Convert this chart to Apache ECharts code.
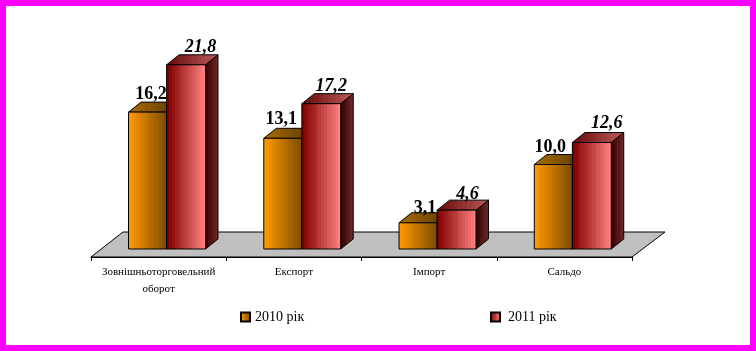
<!DOCTYPE html>
<html><head><meta charset="utf-8">
<style>html,body{margin:0;padding:0;background:#fff}#c{width:756px;height:351px}</style>
<script src="https://cdn.jsdelivr.net/npm/echarts@6/dist/echarts.min.js"></script>
</head><body><div id="c"></div>
<script>
const categories = ['Зовнішньоторговельний\nоборот', 'Експорт', 'Імпорт', 'Сальдо'];
const seriesNames = ['2010 рік', '2011 рік'];
const values2010 = [16.2, 13.1, 3.1, 10.0];
const values2011 = [21.8, 17.2, 4.6, 12.6];

function hex(c){return [1,3,5].map(i=>parseInt(c.substr(i,2),16));}
function bands(a,b,n){
  const A=hex(a),B=hex(b),stops=[];
  for(let i=0;i<n;i++){
    const t=i/(n-1);
    const col='rgb('+A.map((v,k)=>Math.round(v+(B[k]-v)*t)).join(',')+')';
    stops.push({offset:i/n,color:col},{offset:(i+1)/n,color:col});
  }
  return new echarts.graphic.LinearGradient(0,0,1,0,stops);
}
const styles = [
  {front:bands('#ff9900','#7f4d00',14),top:bands('#a86a00','#5c3a00',12),side:bands('#a86a00','#5c3a00',6),
   font:'bold 18px "Liberation Serif"',startK:-0.2225,endK:0.0591,
   nudgeX:[3.5,-1.5,7,-3],nudgeY:[0.5,0,4,1]},
  {front:bands('#800000','#ff8080',14),top:bands('#6a0c0c','#b85858',12),side:bands('#380000','#6a2828',6),
   font:'italic bold 18px "Liberation Serif"',startK:0.0591,endK:0.3465,
   nudgeX:[14.5,10,11,15],nudgeY:[1.5,1,3,-1]}
];
const depthX=12.5, depthY=10;

function renderBar(st){
  return function(params,api){
    const cat=api.value(0), val=api.value(1);
    const top=api.coord([cat,val]), base=api.coord([cat,0]);
    const band=api.size([1,0])[0];
    const x0=top[0]+st.startK*band, x1=top[0]+st.endK*band, yT=top[1], yB=base[1];
    const line={stroke:'#000',lineWidth:1};
    return {type:'group',children:[
      {type:'polygon',shape:{points:[[x1,yT],[x1+depthX,yT-depthY],[x1+depthX,yB-depthY],[x1,yB]]},
        style:Object.assign({fill:st.side},line)},
      {type:'polygon',shape:{points:[[x0,yT],[x0+depthX,yT-depthY],[x1+depthX,yT-depthY],[x1,yT]]},
        style:Object.assign({fill:st.top},line)},
      {type:'rect',shape:{x:x0,y:yT,width:x1-x0,height:yB-yT},
        style:Object.assign({fill:st.front},line)},
      {type:'text',z2:50,style:{text:val.toFixed(1).replace('.',','),x:(x0+x1)/2+st.nudgeX[cat],y:yT-18.5+st.nudgeY[cat],
        font:st.font,fill:'#000',align:'center',verticalAlign:'middle'}}
    ]};
  };
}
function mk(name,vals,st,z){
  return {type:'custom',name:name,z:z,clip:false,
    itemStyle:{color:st.front,borderColor:'#000',borderWidth:1},
    encode:{x:0,y:1},
    data:vals.map((v,i)=>[i,v]),
    renderItem:renderBar(st)};
}
const legendBase={top:310,itemWidth:9,itemHeight:9,padding:0,icon:'rect'};
const chart=echarts.init(document.getElementById('c'),null,{renderer:'canvas'});
chart.setOption({
  animation:false,
  backgroundColor:'#fff',
  grid:{left:91,right:124,top:37.75,bottom:102},
  xAxis:{type:'category',data:categories,offset:8,
    axisLine:{onZero:false,lineStyle:{color:'#000',width:1}},
    axisTick:{show:true,length:4,lineStyle:{color:'#000'}},
    axisLabel:{interval:0,fontFamily:'Liberation Serif',fontSize:11,color:'#000',lineHeight:17,margin:7}},
  yAxis:{type:'value',min:0,max:25,show:false},
  legend:[
    Object.assign({},legendBase,{left:240,data:[seriesNames[0]],
      textStyle:{fontFamily:'Liberation Serif',fontSize:14,color:'#000',padding:[3,0,0,0]}}),
    Object.assign({},legendBase,{left:490,data:[seriesNames[1]],
      textStyle:{fontFamily:'Liberation Serif',fontSize:14,color:'#000',padding:[3,0,0,3]}})
  ],
  graphic:[
    {type:'polygon',z:0,silent:true,shape:{points:[[91,257],[123,232],[665,232],[632,257]]},
      style:{fill:'#c0c0c0',stroke:'#000',lineWidth:1}},
    {type:'rect',z:100,silent:true,shape:{x:3,y:3,width:750,height:345},
      style:{fill:'none',stroke:'#ff00ff',lineWidth:6}}
  ],
  series:[mk(seriesNames[0],values2010,styles[0],2),mk(seriesNames[1],values2011,styles[1],3)]
});
</script></body></html>
